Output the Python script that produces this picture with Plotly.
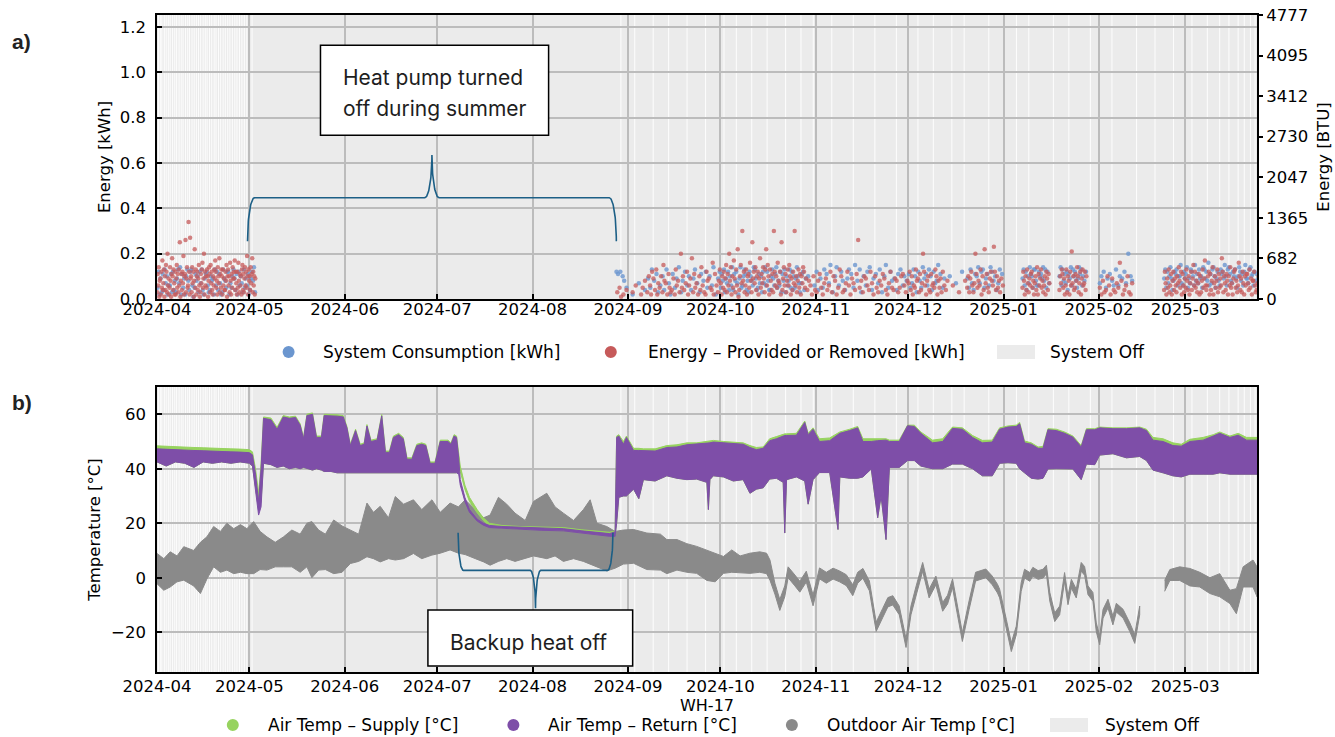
import numpy as np
import pandas as pd
import plotly.graph_objects as go

START = pd.Timestamp("2024-04-01")
X_END_DAY = 357.3

# ---------------- Panel a: energy readings (day offset from 2024-04-01, values per day) -------------
red_days = list(range(0, 32)) + [149, 150, 151, 152, 154, 155, 157, 158] + list(range(159, 257)) + [258, 260, 262] \
    + list(range(263, 275)) + list(range(281, 290)) + list(range(293, 302)) + list(range(306, 317)) + list(range(327, 358))
red_vals = [
    [.03,.11,.06,.14,.01,.08],[.09,.02,.12,.05,.17,.04],[.07,.13,.01,.1,.04,.15],[.12,.03,.2,.06,.09,.02],
    [.05,.14,.08,.01,.11,.18],[.1,.04,.13,.07,.02,.12],[.02,.09,.15,.05,.11,.03],[.13,.06,.25,.01,.08,.11],
    [.04,.12,.07,.19,.02,.1],[.11,.26,.03,.09,.14,.05],[.06,.34,.12,.02,.27,.09],[.1,.03,.14,.07,.12,.01],
    [.08,.22,.05,.13,.02,.1],[.12,.04,.09,.15,.06,.01],[.03,.11,.07,.13,.16,.05],[.09,.2,.02,.12,.06,.1],
    [.05,.13,.1,.01,.08,.14],[.11,.03,.15,.07,.12,.04],[.02,.1,.06,.13,.09,.17],[.12,.05,.08,.02,.14,.1],
    [.07,.18,.03,.11,.05,.13],[.1,.02,.13,.06,.09,.04],[.04,.12,.08,.15,.01,.1],[.13,.06,.1,.03,.16,.08],
    [.02,.11,.05,.14,.09,.12],[.09,.17,.04,.12,.07,.02],[.12,.05,.16,.08,.03,.11],[.06,.1,.02,.13,.15,.04],
    [.11,.03,.09,.14,.06,.12],[.05,.19,.1,.02,.13,.08],[.1,.04,.14,.07,.11,.18],[.03,.12,.06,.1,.02,.09],
    [.03],[.05,.01],[.02],[.04],[.03],[.06],[.02,.05],[.08],
    [.03,.1],[.06,.02,.12],[.09,.04],[.13,.02,.07],[.05,.1],[.03,.15,.08],[.07,.02],[.11,.05,.03],
    [.04,.09],[.02,.13,.06],[.08,.03],[.2,.05,.1],[.04,.07],[.12,.02,.06],[.09,.18],[.03,.11,.05],
    [.07,.02],[.1,.04,.14],[.06,.03],[.02,.12,.08],[.09,.05],[.04,.16,.02],[.11,.06],[.03,.08,.13],
    [.07,.02,.1,.05],[.12,.04,.09,.15],[.03,.11,.06,.2],[.08,.14,.02,.1],[.05,.17,.09,.03],[.13,.06,.22,.01],
    [.04,.1,.15,.07],[.3,.08,.12,.03],[.06,.13,.02,.1],[.11,.05,.16,.08],[.03,.25,.09,.12],[.07,.14,.04,.1],
    [.12,.02,.09,.18],[.05,.11,.07,.14],[.09,.03,.13,.22],[.06,.15,.1,.02],[.13,.08,.04,.11],[.03,.3,.12,.06],
    [.1,.05,.16,.08],[.07,.12,.02,.25],[.04,.09,.14,.06],[.11,.03,.08,.13],[.06,.15,.1,.02],[.09,.04,.12,.07],
    [.3,.06,.1,.03],[.08,.13,.05,.11],[.02,.1,.07,.14],[.12,.05,.09],[.04,.08],[.06,.02],[.1,.04],
    [.03,.08],[.11,.05],[.02,.07],[.09,.04],[.06,.12],[.03,.1],[.08,.02],[.05,.13],[.1,.03],[.04,.07],
    [.12,.06],[.02,.09],[.07,.04],[.11,.26],[.05,.08],[.03,.1],[.09,.06],[.04,.12],[.07,.02],[.1,.05],
    [.03,.08],[.06,.11],[.09,.04],[.02,.07],[.12,.05],[.04,.09],[.08,.03],[.05,.1],[.11,.06],[.03,.08],
    [.07,.12,.04],[.1,.02,.06],[.05,.13,.08],[.09,.03,.11],[.04,.07,.2],[.12,.06,.02],[.08,.1,.04],
    [.03,.11,.06],[.07,.05,.13],[.1,.02,.08],[.05,.09,.03],[.12,.06],[.04,.08],
    [.06],[.03],[.08],
    [.05,.1,.03],[.09,.12,.06],[.03,.07,.2],[.11,.05,.08],[.06,.13,.02],[.1,.04,.22],[.07,.11,.05],
    [.03,.09,.12],[.08,.06,.23],[.12,.04,.1],[.05,.08,.03],[.09,.06],
    [.05,.12,.08,.02],[.1,.04,.13,.07],[.03,.09,.06,.11],[.12,.05,.08,.02],[.07,.1,.04,.14],
    [.02,.11,.06,.09],[.13,.05,.08,.03],[.06,.1,.02,.12],[.09,.04,.11,.07],
    [.04,.1,.07,.13],[.11,.05,.09,.02],[.06,.13,.03,.1],[.08,.02,.12,.06],[.21,.07,.1,.04],
    [.05,.11,.08,.14],[.1,.03,.07,.12],[.02,.09,.13,.06],[.07,.12,.04,.1],
    [.05,.02],[.08,.03],[.04,.1],[.06,.02],[.09,.04],[.03,.07],[.05,.16],[.08,.02],[.04,.06],[.1,.03],[.02,.07],
    [.04,.12,.07,.02],[.09,.05,.13,.03],[.06,.11,.02,.08],[.12,.04,.09,.06],[.03,.1,.07,.14],[.08,.05,.12,.02],
    [.11,.06,.03,.09],[.05,.13,.08,.04],[.1,.02,.07,.12],[.04,.09,.15,.06],[.12,.05,.08,.03],[.07,.11,.02,.1],
    [.03,.08,.13,.05],[.09,.17,.06,.04],[.06,.1,.12,.02],[.11,.04,.08,.14],[.02,.07,.1,.05],[.08,.13,.03,.11],
    [.05,.09,.06,.18],[.12,.03,.1,.07],[.04,.11,.08,.02],[.1,.06,.14,.05],[.07,.02,.09,.12],[.13,.05,.08,.03],
    [.06,.16,.1,.04],[.09,.03,.12,.07],[.02,.1,.06,.11],[.11,.07,.04,.13],[.05,.09,.02,.08],[.08,.12,.06,.03],
    [.04,.07,.1],
]

blue_days = list(range(0, 32)) + [149, 150, 151, 152, 154, 156, 158] + list(range(159, 212)) + [213] \
    + list(range(214, 256)) + [257, 259, 261] + list(range(263, 275)) + list(range(281, 290)) \
    + list(range(293, 302)) + list(range(306, 317)) + list(range(327, 358))
blue_vals = [
    [.05,.12,.02],[.09,.03,.11],[.04,.13,.07],[.1,.02,.06],[.06,.11,.03],[.12,.04,.08],[.03,.09,.13],[.07,.14,.02],
    [.11,.05,.09],[.02,.1,.13],[.08,.04,.12],[.13,.06,.01],[.05,.11,.08],[.1,.03,.12],[.07,.13,.04],[.02,.09,.11],
    [.12,.06,.03],[.04,.1,.08],[.09,.02,.13],[.06,.12,.04],[.11,.07,.02],[.03,.13,.09],[.08,.05,.12],[.12,.02,.07],
    [.05,.1,.13],[.09,.04,.11],[.02,.12,.06],[.1,.07,.03],[.13,.05,.09],[.06,.11,.02],[.04,.09,.12],[.08,.14,.03],
    [.12,.11],[.12],[.1,.08],[.05],[.02],[.07],[.04],
    [.09],[.05,.13],[.08],[.11,.03],[.06],[.1,.04],[.13],[.07,.02],[.11],[.05,.09],[.14],[.03,.08],[.12],
    [.06,.1],[.04],[.09,.13],[.07],[.03,.11],[.08],[.12,.05],[.1],[.06,.14],[.02],[.09,.12],
    [.05,.11,.08],[.13,.03,.09],[.07,.12,.04],[.1,.06,.14],[.04,.11,.08],[.12,.07,.02],[.09,.14,.05],
    [.06,.1,.13],[.11,.04,.08],[.03,.12,.1],[.08,.06,.14],[.13,.09,.04],[.05,.11,.07],[.1,.03,.12],
    [.07,.14,.06],[.12,.08,.04],[.04,.1,.13],[.09,.06,.11],[.14,.05,.08],[.06,.12,.03],[.11,.08,.13],
    [.03,.1,.06],[.08,.13,.05],[.12,.04,.1],[.05,.09,.14],[.1,.07,.03],[.07,.11,.12],[.04,.09],[.1],
    [.06],
    [.12,.04],[.09],[.05,.13],[.11],[.07,.15],[.03],[.1,.14],[.06],[.12,.08],[.04],[.09,.13],[.11],
    [.05,.15],[.08],[.13,.03],[.1],[.06,.12],[.14],[.04,.09],[.11],[.07,.13],[.03],[.1,.15],[.05],
    [.12,.08],[.09],[.04,.11],[.13],[.06,.1],[.08],[.11,.05],[.07,.13],[.1,.03],[.12,.08],[.05,.14],
    [.09,.11],[.06,.13],[.1,.04],[.12,.07],[.08,.15],[.11],[.05,.09],
    [.1],[.07],[.12],
    [.09,.05],[.13,.07],[.04,.11],[.1,.14],[.07,.12],[.13,.05],[.09,.11],[.06,.14],[.12,.08],[.1,.04],
    [.07,.13],[.11],
    [.09,.13,.06],[.12,.04,.1],[.07,.14,.11],[.1,.05,.13],[.13,.08,.06],[.06,.12,.1],[.11,.09,.14],
    [.08,.13,.05],[.12,.07],
    [.1,.14,.06],[.13,.08,.11],[.07,.12,.04],[.11,.09,.14],[.06,.13,.1],[.12,.08,.05],[.09,.14,.11],
    [.13,.06,.1],[.08,.12],
    [.07,.1],[.12],[.05,.09],[.11],[.08,.06],[.13],[.06,.1],[.09],[.12,.07],[.2],[.1,.08],
    [.09,.13,.05],[.12,.07,.1],[.14,.09,.04],[.08,.12,.11],[.13,.06,.1],[.1,.15,.07],[.06,.12,.09],
    [.11,.14,.05],[.09,.07,.13],[.12,.1,.06],[.15,.08,.11],[.07,.13,.09],[.1,.05,.14],[.13,.09,.12],
    [.08,.16,.06],[.11,.07,.13],[.14,.1,.05],[.09,.12,.08],[.06,.13,.11],[.12,.09,.15],[.1,.06,.13],
    [.14,.11,.08],[.07,.12,.1],[.13,.09,.05],[.1,.14,.12],[.08,.11,.06],[.12,.15,.09],[.09,.07,.13],
    [.14,.1,.11],[.06,.12,.08],[.11,.09],
]

btu_ticks = [0, 682, 1365, 2047, 2730, 3412, 4095, 4777]
btu_max = 4777

# ---------------- Panel b: temperatures (envelopes) ----------------
t_day = [0, 3, 6, 9, 12, 15, 18, 21, 24, 27, 30, 31, 32, 33, 33.8, 34.6, 37, 39, 41, 43, 45, 46.5, 47.6, 48.7,
         50.5, 51.8, 53.4, 54.3, 56.5, 58.5, 60.5, 61.7, 62.8, 64.5, 66, 67.3, 68.2, 69.5, 71.5, 73, 74.2,
         75.5, 76.8, 78.5, 80, 81.2, 82.8, 84.4, 86, 87.3, 88.7, 90.3, 92, 94.5, 95.5, 96.5, 97.3,
         98, 98.5, 100, 101.5, 104, 106, 108, 112, 118, 125, 132, 138, 143, 147, 148.8,
         149.3, 150, 151.5, 152.5, 154.8, 156.5, 158, 161.8, 165.6, 168.9, 172.1, 175.3, 178.6, 179.1,
         179.6, 180.7, 184, 187.2, 190.4, 192.6, 194.7, 196.9, 199, 201.2, 203.4, 203.9, 204.5, 207.7,
         210.4, 211.5, 213.1, 215.2, 218.5, 221.2, 221.8, 225, 227.6, 229.3, 232, 234.1, 235.2, 236.8,
         237.9, 241.1, 243.8, 246, 248.1, 251.9, 255.2, 258.4, 261.6, 264.9, 268.1, 271.3, 273.7, 276.4,
         279.1, 280.2, 281.8, 284, 286.2, 287.8, 289.4, 292.1, 294.8, 297.5, 300.2, 301.9, 304.6, 306.2,
         310.5, 314.9, 319.2, 321.4, 323.5, 326.8, 330, 332.7, 335.5, 339.8, 343.1, 345.2, 348.5, 351.2,
         353.9, 357.3]
sup_hi = [48.4, 48.2, 48.1, 47.9, 47.8, 47.7, 47.5, 47.4, 47.3, 47.2, 47.0, 46.2, 40.0, 31.0, 42.0, 59.0, 58.6,
          55.2, 59.5, 59.0, 59.3, 56.5, 51.5, 60.0, 60.5, 52.0, 52.0, 60.0, 60.0, 59.8, 59.5, 55.5, 49.0, 54.5,
          49.0, 49.5, 56.2, 50.5, 51.0, 59.9, 46.5, 46.5, 52.0, 53.0, 51.5, 44.0, 44.0, 49.0, 49.5, 49.0, 42.5,
          42.5, 50.5, 50.5, 49.5, 52.5, 52.0,
          46.0, 41.0, 34.0, 29.5, 25.0, 22.0, 20.0, 19.2, 18.8, 18.6, 18.4, 17.6, 17.0, 16.7, 17.2,
          52.0, 52.5, 50.0, 52.0, 47.5, 47.5, 47.3, 47.3, 48.5, 48.8, 49.5, 49.5, 50.0, 50.0,
          50.2, 50.4, 50.0, 49.8, 49.5, 48.5, 47.8, 48.0, 51.0, 51.8, 52.8, 52.8, 52.8, 53.0,
          57.5, 53.0, 55.0, 51.0, 51.3, 53.0, 53.5, 54.5, 55.5, 51.0, 51.0, 51.0, 51.0, 51.0,
          50.5, 50.5, 56.0, 56.0, 53.5, 50.5, 51.0, 55.3, 55.0, 52.2, 50.4, 50.5, 55.0, 55.7,
          56.0, 57.0, 50.2, 49.5, 48.0, 48.2, 54.7, 54.5, 53.5, 52.0, 48.5, 54.7, 54.7, 55.3,
          55.0, 55.0, 55.3, 54.5, 51.5, 51.0, 49.5, 49.0, 50.8, 51.5, 52.5, 53.5, 52.0, 53.0,
          51.5, 51.5]
sup_lo = [42.5, 41.0, 42.5, 42.0, 40.5, 42.5, 42.0, 42.5, 42.0, 42.5, 42.0, 41.0, 33.0, 25.0, 28.0, 42.0, 41.5,
          40.5, 41.0, 40.0, 40.5, 40.0, 40.5, 40.0, 39.5, 40.0, 39.5, 39.0, 39.0, 38.5, 38.5, 38.5, 38.5, 38.5,
          38.5, 38.5, 38.5, 38.5, 38.5, 38.5, 38.5, 38.5, 38.5, 38.5, 38.5, 38.5, 38.5, 38.5, 38.5, 38.5, 38.5,
          38.5, 38.5, 38.5, 38.5, 38.5, 38.5,
          40.0, 39.0, 32.5, 28.0, 23.8, 21.0, 19.0, 18.2, 17.8, 17.6, 17.4, 16.6, 16.0, 15.6, 15.6,
          20.0, 29.5, 30.0, 30.0, 32.5, 29.0, 36.0, 35.5, 37.4, 36.5, 36.0, 36.2, 35.0, 25.0,
          36.0, 37.4, 37.0, 35.5, 36.0, 31.0, 32.5, 33.0, 36.2, 36.5, 35.0, 16.4, 36.0, 37.0,
          35.5, 27.0, 36.0, 38.6, 38.6, 17.7, 37.0, 36.5, 36.5, 37.0, 39.9, 22.0, 30.0, 14.0,
          40.5, 40.5, 43.0, 43.0, 41.0, 40.0, 40.0, 41.7, 41.7, 40.0, 37.4, 37.4, 42.0, 42.2,
          42.0, 40.0, 38.5, 36.5, 36.2, 36.5, 39.9, 40.0, 40.0, 39.9, 36.0, 41.7, 41.5, 45.0,
          45.5, 44.0, 44.5, 43.0, 39.5, 38.5, 37.4, 37.0, 38.0, 38.0, 38.0, 38.5, 38.0, 38.0,
          38.0, 38.0]
ret_hi = [47.3, 47.1, 47.0, 46.8, 46.7, 46.6, 46.4, 46.3, 46.2, 46.1, 45.9, 45.1, 38.0, 28.0, 40.0, 58.5, 58.0,
          54.5, 59.0, 58.5, 58.8, 56.0, 51.0, 59.5, 60.0, 51.5, 51.5, 59.5, 59.5, 59.3, 59.0, 55.0, 48.5, 54.0,
          48.5, 49.0, 55.7, 50.0, 50.5, 59.4, 46.0, 46.0, 51.5, 52.5, 51.0, 43.5, 43.5, 48.5, 49.0, 48.5, 42.0,
          42.0, 50.0, 50.0, 49.0, 52.0, 51.5,
          44.0, 36.0, 29.5, 25.0, 21.5, 20.0, 19.2, 18.8, 18.5, 18.3, 18.0, 17.2, 16.5, 16.2, 16.8,
          51.5, 52.0, 49.0, 51.5, 46.7, 46.7, 46.7, 46.5, 47.8, 48.0, 48.8, 49.0, 49.3, 49.3,
          49.5, 49.8, 49.5, 49.2, 49.0, 47.8, 47.0, 47.5, 50.3, 51.0, 52.2, 52.2, 52.2, 52.3,
          57.0, 52.5, 54.5, 50.0, 50.3, 52.5, 53.0, 54.0, 55.0, 50.0, 50.0, 50.3, 50.3, 50.5,
          50.0, 50.0, 55.8, 55.5, 53.0, 49.5, 50.0, 54.8, 54.5, 51.5, 49.5, 49.8, 54.5, 55.3,
          55.5, 56.5, 49.5, 49.0, 47.5, 47.5, 54.3, 54.0, 53.0, 51.6, 48.0, 54.3, 54.3, 55.0,
          54.7, 54.7, 55.0, 54.0, 50.5, 50.0, 48.5, 48.3, 50.0, 50.5, 52.0, 53.0, 51.5, 52.3,
          50.5, 50.5]
ret_lo = [42.5, 41.0, 42.5, 42.0, 40.5, 42.5, 42.0, 42.5, 42.0, 42.5, 42.0, 41.0, 33.0, 23.0, 26.0, 42.0, 41.5,
          40.5, 41.0, 40.0, 40.5, 40.0, 40.5, 40.0, 39.5, 40.0, 39.5, 39.0, 39.0, 38.5, 38.5, 38.5, 38.5, 38.5,
          38.5, 38.5, 38.5, 38.5, 38.5, 38.5, 38.5, 38.5, 38.5, 38.5, 38.5, 38.5, 38.5, 38.5, 38.5, 38.5, 38.5,
          38.5, 38.5, 38.5, 38.5, 38.5, 38.5,
          38.0, 34.0, 28.0, 24.0, 20.8, 19.3, 18.4, 18.0, 17.7, 17.4, 17.2, 16.4, 15.7, 15.2, 15.2,
          20.0, 29.5, 30.0, 30.0, 32.5, 29.0, 36.0, 35.5, 37.4, 36.5, 36.0, 36.2, 35.0, 25.0,
          36.0, 37.4, 37.0, 35.5, 36.0, 31.0, 32.5, 33.0, 36.2, 36.5, 35.0, 16.4, 36.0, 37.0,
          35.5, 27.0, 36.0, 38.6, 38.6, 17.7, 37.0, 36.5, 36.5, 37.0, 39.9, 22.0, 30.0, 14.0,
          40.5, 40.5, 43.0, 43.0, 41.0, 40.0, 40.0, 41.7, 41.7, 40.0, 37.4, 37.4, 42.0, 42.2,
          42.0, 40.0, 38.5, 36.5, 36.2, 36.5, 39.9, 40.0, 40.0, 39.9, 36.0, 41.7, 41.5, 45.0,
          45.5, 44.0, 44.5, 43.0, 39.5, 38.5, 37.4, 37.0, 38.0, 38.0, 38.0, 38.5, 38.0, 38.0,
          38.0, 38.0]

out_day = [0, 2.2, 4.3, 6.5, 8.7, 11.9, 14.1, 16.2, 18.4, 20.6, 22.7, 24.9, 27.1, 29.2, 31.4, 33.5, 35.7, 38.4,
           41.1, 43.8, 46.5, 48.7, 50.3, 52.5, 54.7, 57.4, 60.1, 62.8, 65.5, 68.2, 70.3, 72.5, 75.2, 77.4, 80.1,
           83.3, 86, 89.3, 92, 95.2, 97.9, 100.1, 103.4, 106.1, 108.2, 110.9, 113.6, 116.3, 119.6, 122.3, 126.6,
           129.3, 132, 135.3, 138.5, 140.7, 142.9, 146.1, 148.8, 151.5, 154.8, 159.1, 163.5, 165.6, 168.9, 172.1,
           175.3, 178.6, 181.3, 184, 186.7, 189.4, 192.6, 195.8, 198, 199.1, 200.7, 202.3, 203.9, 205, 207.2,
           208.8, 210.9, 213.1, 215.2, 217.4, 219.6, 221.7, 223.9, 226, 227.6, 229.3, 231.4, 233.6, 235.7, 237.4,
           239, 241.1, 243.3, 244.9, 246.5, 248.7, 250.8, 253, 255.2, 256.8, 258.4, 260, 261.6, 263.8, 265.9,
           269.2, 271.3, 273, 273.7, 275.9, 277.5, 279.1, 280.7, 281.8, 283.5, 284.5, 286.2, 287.8, 288.9, 290,
           291.6, 293.2, 294.8, 295.9, 297, 298.6, 300.2, 301.3, 302.4, 304, 305.1, 306.2, 307.3, 308.9, 310.5,
           311.6, 313.8, 316, 317.6, 319.2, None, 327.3, 329, 332.2, 335.5, 338.7, 342, 345.2, 348.5, 350.6,
           352.8, 356, 357.3]
out_hi = [8.9, 7.0, 9.5, 8.0, 11.4, 10.0, 13.0, 15.0, 18.8, 17.0, 20.0, 18.0, 19.5, 18.0, 20.6, 17.0, 15.0, 13.0,
          15.0, 17.5, 16.0, 20.0, 20.6, 17.5, 16.0, 21.2, 19.0, 17.5, 16.0, 27.4, 24.0, 26.2, 22.0, 29.8, 27.0,
          28.6, 25.0, 28.6, 24.0, 27.4, 26.0, 28.6, 25.0, 22.0, 23.0, 29.5, 27.0, 23.7, 21.0, 28.0, 31.0,
          26.0, 23.7, 21.0, 25.0, 28.6, 20.0, 18.8, 17.0, 17.5, 17.7, 16.4, 16.0, 14.0, 14.0, 12.5,
          11.5, 10.0, 9.0, 7.8, 10.2, 8.0, 9.0, 9.5, 9.0, 6.5, -2.0, -8.0, -3.0, 4.0, 1.0,
          -1.3, 2.4, -6.3, 3.6, 2.0, 3.5, 2.5, 1.1, -2.6, 2.0, 3.4, -1.2, -16.3, -11.3, -7.3,
          -6.6, -10.4, -22.4, -10.4, -3.4, 5.6, -4.2, 0.6, -9.1, -6.4, -0.4, -10.4, -20.2, -8.4, 2.0,
          3.2, 0.6, -2.4, -4.2, -15.4, -23.9, -17.8, -1.8, 3.1, 1.9, 3.8, 2.6, 3.1, 4.6, -5.4,
          -12.9, -10.4, 1.9, -6.7, -0.6, -4.2, 5.6, 4.1, -3.0, -5.4, -16.6, -21.4, -11.6, -7.9, -14.1,
          -9.4, -11.6, -16.6, -20.9, -10.4, None, -1.0, 3.0, 4.0, 3.4, 2.0, 0.0, 1.5, -4.6, -4.0,
          4.0, 6.5, 4.0]
out_lo = [-2.2, -4.6, -3.4, -1.5, -0.9, -3.0, -5.8, -0.5, 4.0, 2.0, 2.8, 1.5, 2.0, 1.5, 1.5, 3.0, 2.8, 4.0,
          4.0, 4.0, 2.0, 4.0, 0.0, 2.8, 3.0, 1.5, 2.0, 5.2, 6.0, 7.7, 7.0, 5.8, 7.0, 6.5, 7.0,
          8.9, 7.0, 8.3, 9.0, 10.2, 9.0, 8.5, 7.0, 5.8, 4.6, 6.0, 7.0, 6.0, 7.0, 8.0, 7.0,
          8.0, 6.0, 7.0, 6.0, 5.0, 4.0, 2.5, 3.5, 5.0, 5.3, 3.0, 2.8, 1.5, 2.8, 2.0,
          1.6, -1.0, -1.5, 1.6, 2.0, 1.8, 1.6, 2.0, 1.5, -0.9, -6.0, -12.0, -7.0, 0.0, -3.0,
          -5.3, -1.6, -10.3, -0.4, -2.0, -0.5, -1.5, -2.9, -6.6, -2.0, -0.2, -4.8, -19.7, -14.7, -10.7,
          -10.0, -13.6, -25.6, -13.6, -6.6, 2.4, -7.4, -2.6, -12.3, -9.6, -3.6, -13.6, -23.4, -11.6, -1.2,
          0.0, -2.6, -5.6, -7.4, -18.6, -27.1, -21.0, -5.0, -0.1, -1.3, 0.6, -0.6, -0.1, 1.4, -8.6,
          -16.1, -13.6, -1.3, -9.9, -3.8, -7.4, 2.4, 0.9, -6.2, -8.6, -19.8, -24.6, -14.8, -11.1, -17.3,
          -12.6, -14.8, -19.8, -24.1, -13.6, None, -5.0, -1.0, -1.0, -3.0, -3.4, -5.8, -7.0, -9.5, -13.2,
          -3.4, -3.4, -7.0]

# intervals when the system was on (light stripes over the "System Off" shading)
on_stripes = [0.3, 0.9, 1.4, 2.2, 2.8, 3.5, 4.1, 4.9, 5.6, 6.2, 7.0, 7.7, 8.3, 9.1, 9.8, 10.4, 11.2, 11.9, 12.6,
              13.3, 14.0, 14.8, 15.5, 16.1, 16.9, 17.6, 18.4, 19.0, 19.8, 20.5, 21.3, 22.0, 22.8, 23.5, 24.3,
              25.1, 25.8, 26.6, 27.4, 28.2, 29.0, 29.8, 30.7,
              150.5, 155, 161, 166, 172, 178, 184, 188, 193, 198, 204, 209, 213, 219, 226, 233, 240, 247, 252,
              258, 262, 270, 279, 283, 291, 296, 303, 310, 318, 324, 330, 336, 341, 345, 348, 351, 353, 355, 356.5]

legend_a_names = ["System Consumption [kWh]", "Energy – Provided or Removed [kWh]", "System Off"]
legend_b_names = ["Air Temp – Supply [°C]", "Air Temp – Return [°C]", "Outdoor Air Temp [°C]", "System Off"]

# ---------------------------------------------------------------------------------------------
W, H = 1335, 737
ML, MR, MT, MB = 157, 78, 15, 65
PW, PH = W - ML - MR, H - MT - MB


def to_dt(days):
    return [None if d is None else START + pd.Timedelta(days=float(d)) for d in days]


def px2paper(px, py):
    return (px - ML) / PW, 1 - (py - MT) / PH


def expand(days, vals):
    xs, ys = [], []
    for d, vs in zip(days, vals):
        n = len(vs)
        for k, v in enumerate(vs):
            xs.append(d + (k + 0.5) / n)
            ys.append(v)
    return to_dt(xs), ys


def segments(days, hi, lo):
    segs, cur = [], ([], [], [])
    for d, h, l in zip(days, hi, lo):
        if d is None:
            segs.append(cur)
            cur = ([], [], [])
        else:
            cur[0].append(d); cur[1].append(h); cur[2].append(l)
    segs.append(cur)
    return segs


def band_poly(days, hi, lo):
    xs, ys = [], []
    for d, h, l in segments(days, hi, lo):
        if not d:
            continue
        xs += to_dt(d) + to_dt(d[::-1]) + [None]
        ys += h + l[::-1] + [None]
    return xs, ys


def brace(d0, d1, y_end, y_bar, y_tip, dx, n=30):
    t = np.linspace(0, np.pi / 2, n)
    dm = (d0 + d1) / 2
    lx = list(d0 + dx * (1 - np.cos(t))) + list(dm - dx + dx * np.sin(t))
    ly = list(y_end + (y_bar - y_end) * np.sin(t)) + list(y_tip + (y_bar - y_tip) * np.cos(t))
    rx = [2 * dm - v for v in lx[::-1]]
    ry = ly[::-1]
    return to_dt(lx + rx), ly + ry


BLUE = "#6b96cf"
RED = "#c65a5a"
GREEN = "#97d35f"
PURPLE = "#7e4ea8"
GRAY = "#8a8a8a"
OFF = "#ebebeb"
BRACE = "#1c5f86"
FONT = "DejaVu Sans"

fig = go.Figure()

# ---- panel a
bx, by = expand(blue_days, blue_vals)
rx, ry = expand(red_days, red_vals)
fig.add_trace(go.Scatter(x=bx, y=by, mode="markers", marker=dict(size=4.5, color=BLUE, opacity=0.8),
                         name=legend_a_names[0], showlegend=False, xaxis="x", yaxis="y", hoverinfo="skip"))
fig.add_trace(go.Scatter(x=rx, y=ry, mode="markers", marker=dict(size=4.5, color=RED, opacity=0.75),
                         name=legend_a_names[1], showlegend=False, xaxis="x", yaxis="y", hoverinfo="skip"))
fig.add_trace(go.Scatter(x=[None], y=[None], xaxis="x", yaxis="y3", showlegend=False))

brx, bry = brace(29.4, 149.2, 0.255, 0.447, 0.635, 2.3)
fig.add_trace(go.Scatter(x=brx, y=bry, mode="lines", line=dict(color=BRACE, width=1.6),
                         showlegend=False, xaxis="x", yaxis="y", hoverinfo="skip"))

# ---- panel b
for days, hi, lo, col, nm in [(out_day, out_hi, out_lo, GRAY, legend_b_names[2]),
                              (t_day, sup_hi, sup_lo, GREEN, legend_b_names[0]),
                              (t_day, ret_hi, ret_lo, PURPLE, legend_b_names[1])]:
    px, py = band_poly(days, hi, lo)
    fig.add_trace(go.Scatter(x=px, y=py, mode="lines", fill="toself", fillcolor=col, name=nm,
                             line=dict(color=col, width=1), showlegend=False,
                             xaxis="x2", yaxis="y2", hoverinfo="skip"))

brx2, bry2 = brace(97.8, 148.1, 16.5, 2.7, -11.2, 1.7)
fig.add_trace(go.Scatter(x=brx2, y=bry2, mode="lines", line=dict(color=BRACE, width=1.6),
                         showlegend=False, xaxis="x2", yaxis="y2", hoverinfo="skip"))

# ---- shapes: system-on stripes, annotation boxes
shapes = []
for d in on_stripes:
    for xr, yr in [("x", "y domain"), ("x2", "y2 domain")]:
        shapes.append(dict(type="rect", xref=xr, yref=yr, x0=to_dt([d])[0], x1=to_dt([d + 0.35])[0],
                           y0=0, y1=1, fillcolor="white", opacity=0.85, line_width=0, layer="below"))
shapes.append(dict(type="rect", xref="x", yref="y", x0=to_dt([53.1])[0], x1=to_dt([127.2])[0],
                   y0=0.723, y1=1.12, fillcolor="white", line=dict(color="black", width=1.5), layer="above"))
shapes.append(dict(type="rect", xref="x2", yref="y2", x0=to_dt([88])[0], x1=to_dt([154.5])[0],
                   y0=-32.4, y1=-11.8, fillcolor="white", line=dict(color="black", width=1.5), layer="above"))

ann_font = dict(family="Inter", size=21, color="#1e1e1e")
annotations = [
    dict(xref="x", yref="y", x=to_dt([59.7])[0], y=0.979, text="Heat pump turned", showarrow=False,
         xanchor="left", yanchor="middle", font=ann_font),
    dict(xref="x", yref="y", x=to_dt([59.7])[0], y=0.8425, text="off during summer", showarrow=False,
         xanchor="left", yanchor="middle", font=ann_font),
    dict(xref="x2", yref="y2", x=to_dt([120.6])[0], y=-23.8, text="Backup heat off", showarrow=False,
         xanchor="center", yanchor="middle", font=ann_font),
]
for lbl, py in [("a)", 42), ("b)", 402)]:
    ax_, ay_ = px2paper(10, py)
    annotations.append(dict(xref="paper", yref="paper", x=ax_, y=ay_, text="<b>%s</b>" % lbl, showarrow=False,
                            xanchor="left", yanchor="middle",
                            font=dict(family="Liberation Sans", size=21, color="#222")))
wx, wy = px2paper(707, 705)
annotations.append(dict(xref="paper", yref="paper", x=wx, y=wy, text="WH-17", showarrow=False,
                        xanchor="center", yanchor="middle", font=dict(family=FONT, size=16, color="black")))

# ---- hand-placed legends (marker / swatch + text), pixel positions of the reference layout
leg_font = dict(family=FONT, size=17, color="black")
legend_items = [
    (288.6, 352, "circle", BLUE, 320.8, legend_a_names[0]),
    (610.8, 352, "circle", RED, 645.6, legend_a_names[1]),
    (997.0, 352, "rect", OFF, 1047.5, legend_a_names[2]),
    (232.8, 725, "circle", GREEN, 265.7, legend_b_names[0]),
    (513.4, 725, "circle", PURPLE, 546.3, legend_b_names[1]),
    (791.9, 725, "circle", GRAY, 824.8, legend_b_names[2]),
    (1050.0, 725, "rect", OFF, 1102.6, legend_b_names[3]),
]
for mx, my, kind, col, tx, txt in legend_items:
    ax_, ay_ = px2paper(mx, my)
    if kind == "circle":
        shapes.append(dict(type="circle", xref="paper", yref="paper", xsizemode="pixel", ysizemode="pixel",
                           xanchor=ax_, yanchor=ay_, x0=-6, x1=6, y0=-6, y1=6, fillcolor=col, line_width=0))
    else:
        shapes.append(dict(type="rect", xref="paper", yref="paper", xsizemode="pixel", ysizemode="pixel",
                           xanchor=ax_, yanchor=ay_, x0=0, x1=38, y0=-7, y1=7, fillcolor=col, line_width=0))
    tx_, ty_ = px2paper(tx, my)
    annotations.append(dict(xref="paper", yref="paper", x=tx_, y=ty_, text=txt, showarrow=False,
                            xanchor="left", yanchor="middle", font=leg_font))

x_range = [START, START + pd.Timedelta(days=X_END_DAY)]
axis_common = dict(showline=True, linecolor="black", linewidth=1.5, mirror=True, ticks="inside",
                   ticklen=5, tickwidth=1.5, tickcolor="black", showgrid=True, gridcolor="#bcbcbc",
                   gridwidth=1.5, zeroline=False, tickfont=dict(family=FONT, size=16.5, color="black"))

fig.update_layout(
    width=W, height=H,
    margin=dict(l=ML, r=MR, t=MT, b=MB, autoexpand=False),
    paper_bgcolor="white", plot_bgcolor=OFF,
    font=dict(family=FONT, size=16.5, color="black"),
    hovermode=False, showlegend=False,
    shapes=shapes, annotations=annotations,
    xaxis=dict(domain=[0, 1], anchor="y", range=x_range, dtick="M1", tick0="2024-04-01",
               tickformat="%Y-%m", ticklabelstandoff=-6, **axis_common),
    yaxis=dict(domain=[1 - (299 - MT) / PH, 1], anchor="x", range=[0, 1.253], dtick=0.2, tickformat=".1f",
               title=dict(text="Energy [kWh]", standoff=5, font=dict(size=16.5)), ticklabelstandoff=6,
               **axis_common),
    yaxis3=dict(overlaying="y", side="right", anchor="x", range=[0, btu_max], tickvals=btu_ticks,
                ticktext=[str(v) for v in btu_ticks], ticks="outside", ticklen=5, tickwidth=1.5,
                tickcolor="black", showgrid=False, zeroline=False, showline=False,
                tickfont=dict(family=FONT, size=16.5, color="black"),
                title=dict(text="Energy [BTU]", standoff=10, font=dict(size=16.5))),
    xaxis2=dict(domain=[0, 1], anchor="y2", range=x_range, dtick="M1", tick0="2024-04-01",
                tickformat="%Y-%m", ticklabelstandoff=-2, **axis_common),
    yaxis2=dict(domain=[0, (H - MB - 387) / PH], anchor="x2", range=[-34.6, 70], tickvals=[-20, 0, 20, 40, 60],
                title=dict(text="Temperature [°C]", standoff=6, font=dict(size=16.5)), ticklabelstandoff=6,
                **axis_common),
)

fig.write_html("out.html")
